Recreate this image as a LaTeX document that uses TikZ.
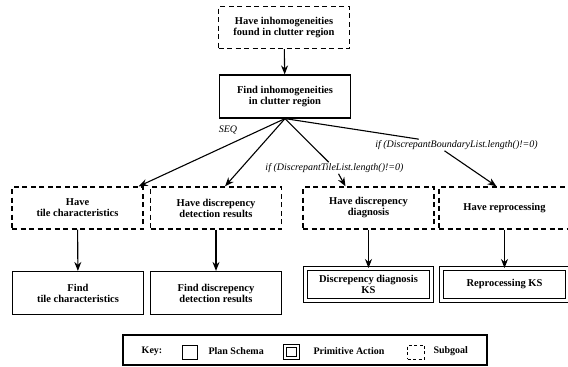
\documentclass[tikz,border=0pt]{standalone}
\usepackage{fontspec}
\setmainfont{Liberation Serif}
\usetikzlibrary{arrows.meta}

\tikzset{
    boxfont/.style={font=\bfseries\fontsize{10.5}{11}\selectfont},
    goalbox/.style={draw, dash pattern=on 5pt off 3.5pt, line width=1.3pt,
            minimum width=131pt, minimum height=42pt, align=center, boxfont},
    schemabox/.style={draw, line width=1.2pt,
            minimum width=131pt, minimum height=43pt, align=center, boxfont},
    primbox/.style={draw, double, double distance=3pt, line width=1pt,
            minimum width=126pt, minimum height=32pt, align=center, boxfont},
    condlabel/.style={font=\itshape\fontsize{10}{11}\selectfont, inner sep=1pt},
    arr/.style={line width=1.1pt, -{Stealth[length=9pt,width=7pt]}}
}

\begin{document}
\begin{tikzpicture}[x=1pt, y=-1pt]
    \useasboundingbox (0,0) rectangle (568,367);
    % Top of the plan
    \node[goalbox] (hinhom) at (284,27.5) {Have inhomogeneities\\found in clutter region};
    \node[schemabox] (finhom) at (285,96.5) {Find inhomogeneities\\in clutter region};
    \draw[arr] (hinhom) -- (finhom);
    % Subgoals
    \node[goalbox] (htile) at (77.5,208) {Have\\tile characteristics};
    \node[goalbox] (hdet) at (216,208) {Have discrepency\\detection results};
    \node[goalbox] (hdiag) at (368.5,208) {Have discrepency\\diagnosis};
    \node[goalbox] (hrep) at (504.5,208) {Have reprocessing};
    % Plan schemas and primitive actions
    \node[schemabox] (ftile) at (78,293) {Find\\tile characteristics};
    \node[schemabox] (fdet) at (216,293) {Find discrepency\\detection results};
    \node[primbox] (kdiag) at (368.5,284.5) {Discrepency diagnosis\\KS};
    \node[primbox] (krep) at (504.5,284.5) {Reprocessing KS};
    \foreach \a/\b in {htile/ftile, hdet/fdet, hdiag/kdiag, hrep/krep} {
            \draw[arr] (\a) -- (\b);
        }
    % Branches out of the schema
    \node[condlabel] (seq) at (228,130) {SEQ};
    \node[condlabel] (tilecond) at (334.5,168) {if (DiscrepantTileList.length()!=0)};
    \node[condlabel] (bndcond) at (456.5,145) {if (DiscrepantBoundaryList.length()!=0)};
    \draw[arr] (finhom.south) -- ([xshift=-5pt]htile.north east);
    \draw[arr] (finhom.south) -- ([xshift=9pt]hdet.north);
    \draw[line width=1.1pt] (finhom.south) -- (tilecond);
    \draw[arr] ([xshift=4pt]tilecond.south) -- ([xshift=-23pt]hdiag.north);
    \draw[line width=1.1pt] (finhom.south) -- (bndcond);
    \draw[arr] ([xshift=-12pt]bndcond.south) -- ([xshift=-8pt]hrep.north);
    % Key
    \node[draw, line width=1.3pt, minimum width=364pt, minimum height=30pt] (key) at (305,350) {};
    \node[boxfont, font=\bfseries\fontsize{10}{11}\selectfont] (keylab) at (152,351) {Key:};
    \node[draw, line width=0.9pt, minimum width=15pt, minimum height=14pt, inner sep=0pt] (kplan) at (189.5,352) {};
    \node[font=\bfseries\fontsize{10}{11}\selectfont, anchor=west] (kplantxt) at (205,351) {Plan Schema};
    \node[draw, double, double distance=1.5pt, line width=0.8pt, minimum width=13pt, minimum height=12pt, inner sep=0pt] (kprim) at (291.5,352) {};
    \node[font=\bfseries\fontsize{10}{11}\selectfont, anchor=west] (kprimtxt) at (310,351) {Primitive Action};
    \node[draw, dash pattern=on 3pt off 2.5pt, line width=0.9pt, minimum width=17pt, minimum height=14pt, inner sep=0pt] (kgoal) at (416,352) {};
    \node[font=\bfseries\fontsize{10}{11}\selectfont, anchor=west] (kgoaltxt) at (430,351) {Subgoal};
\end{tikzpicture}
\end{document}
